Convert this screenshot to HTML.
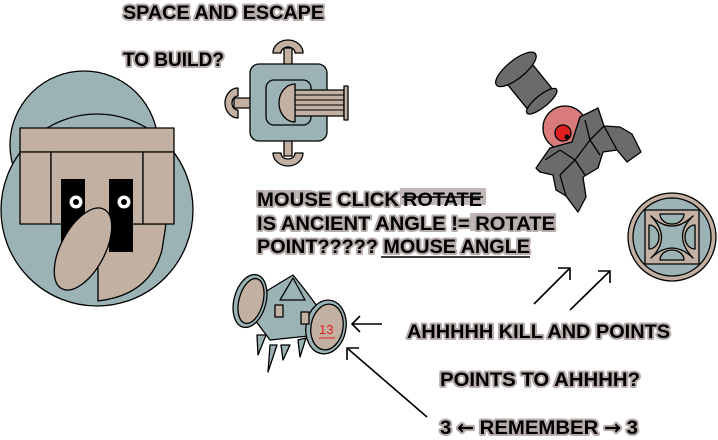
<!DOCTYPE html>
<html><head><meta charset="utf-8"><style>
html,body{margin:0;padding:0;background:#fff;}
svg{display:block}
.t{font-family:"Liberation Sans","DejaVu Sans",sans-serif;font-weight:bold;font-size:19px;fill:#000;stroke:#b5acaa;stroke-width:4px;paint-order:stroke;stroke-linejoin:round}
.o{stroke:#000;stroke-width:1.3;stroke-linejoin:round}
</style></head><body>
<svg width="718" height="440" viewBox="0 0 718 440">
<g>
<circle class="o" cx="84" cy="145" r="74" fill="#9cb3b6"/>
<circle class="o" cx="97" cy="210" r="96" fill="#9cb3b6"/>
<path class="o" d="M98 240 L98 301 Q150 295 162 250 L166 224 L98 224 Z" fill="#c2b0a2"/>
<rect class="o" x="20" y="128" width="154" height="24" fill="#c2b0a2"/>
<rect class="o" x="20" y="152" width="31" height="72" fill="#c2b0a2"/>
<rect class="o" x="51" y="152" width="92" height="72" fill="#c2b0a2"/>
<rect class="o" x="143" y="152" width="31" height="72" fill="#c2b0a2"/>
<rect x="61" y="179" width="24" height="73" fill="#000"/>
<rect x="109" y="179" width="24" height="73" fill="#000"/>
<circle cx="76" cy="202" r="6.5" fill="#fff"/><circle cx="76" cy="202" r="3" fill="#000"/>
<circle cx="124" cy="202" r="6.5" fill="#fff"/><circle cx="124" cy="202" r="3" fill="#000"/>
<ellipse class="o" cx="83" cy="249" rx="22" ry="45" transform="rotate(28 83 249)" fill="#c2b0a2"/>
</g>
<g>
<rect class="o" x="284" y="48" width="8" height="18" fill="#c2b0a2"/>
<path class="o" d="M273 53 A15 13 0 0 1 303 53 L295 53 A7 6 0 0 0 281 53 Z" fill="#c2b0a2"/>
<rect class="o" x="284" y="138" width="8" height="18" fill="#c2b0a2"/>
<path class="o" d="M273 153 A15 13 0 0 0 303 153 L295 153 A7 6 0 0 1 281 153 Z" fill="#c2b0a2"/>
<rect class="o" x="234" y="98" width="18" height="10" fill="#c2b0a2"/>
<path class="o" d="M238 88 A13 15 0 0 0 238 118 L238 110 A6 7 0 0 1 238 96 Z" fill="#c2b0a2"/>
<rect class="o" x="250" y="64" width="77" height="77" rx="9" fill="#9cb3b6"/>
<rect class="o" x="266" y="80" width="45" height="45" rx="8" fill="#9cb3b6"/>
<rect class="o" x="292" y="90" width="52" height="26" fill="#c2b0a2"/>
<path d="M293 95 H344 M293 100 H344 M293 105 H344 M293 110 H344" stroke="#000" stroke-width="1"/>
<rect class="o" x="344" y="86" width="4" height="34" fill="#c2b0a2"/>
<path class="o" d="M295 84 A16 19 0 0 0 295 122 Z" fill="#c2b0a2"/>
</g>
<g class="o" fill="#6b6b6b">
<g transform="translate(565 130) rotate(-39)">
<rect x="-16" y="-78" width="32" height="40" rx="4"/>
<ellipse cx="0" cy="-78" rx="25" ry="9"/>
<ellipse cx="0" cy="-37" rx="19" ry="6"/>
</g>
<circle cx="565" cy="128" r="22" fill="#d97b7b"/>
<polygon points="536,168 550,148 572,142 580,117 598,108 604,126 620,127 632,134 641,152 627,162 617,150 603,152 598,168 583,177 586,197 578,212 566,196 556,190 553,175 540,172"/>
<path d="M560 150 L575 160 L560 175 M575 160 L590 140 L604 126 M590 140 L600 155 M575 160 L585 175 M585 120 L590 140 M604 126 L617 150 M560 175 L566 196 M545 160 L560 150" fill="none"/>
<circle cx="563" cy="133" r="8" fill="#e02020"/>
<circle cx="567" cy="137" r="1.8" fill="#000"/>
</g>
<g>
<circle class="o" cx="672" cy="237" r="44" fill="#c2b0a2"/>
<circle class="o" cx="672" cy="237" r="39" fill="#9cb3b6"/>
<rect class="o" x="645" y="210" width="54" height="54" fill="#c2b0a2"/>
<path class="o" d="M651 216 Q672 236 693 216 Q672 236 693 258 Q672 238 651 258 Q672 238 651 216 Z" fill="#9cb3b6"/>
<path class="o" d="M660 214 A12 10 0 0 0 684 214 Z M660 260 A12 10 0 0 1 684 260 Z M649 225 A10 12 0 0 1 649 249 Z M695 225 A10 12 0 0 0 695 249 Z" fill="#9cb3b6"/>
</g>
<g class="o">
<path d="M270 345 L268 372 L277 345 Z M281 345 L283 360 L290 345 Z M298 340 L300 357 L306 338 Z M257 335 L258 355 L266 335 Z" fill="#9cb3b6"/>
<polygon points="260,295 293,275 305,290 320,310 318,335 270,340 255,320" fill="#9cb3b6"/>
<polygon points="280,300 293,278 305,300" fill="#9cb3b6"/>
<ellipse cx="250" cy="301" rx="16" ry="27" transform="rotate(15 250 301)" fill="#9cb3b6"/>
<ellipse cx="251" cy="301" rx="12" ry="23" transform="rotate(15 251 301)" fill="#c2b0a2"/>
<ellipse cx="326" cy="327" rx="20" ry="27" transform="rotate(10 326 327)" fill="#9cb3b6"/>
<ellipse cx="327" cy="327" rx="16" ry="23" transform="rotate(10 327 327)" fill="#c2b0a2"/>
<rect x="275" y="305" width="8" height="12" fill="#c2b0a2"/>
<rect x="301" y="312" width="8" height="12" fill="#c2b0a2"/>
</g>
<text x="319" y="334" font-family="Liberation Sans,sans-serif" font-size="13" fill="#e02020">13</text>
<line x1="319" y1="338" x2="335" y2="338" stroke="#e02020" stroke-width="1"/>
<g stroke="#000" stroke-width="1.6" fill="none">
<path d="M534 304 L570 268 M558 268 H570 V280"/>
<path d="M570 310 L610 271 M598 271 H610 V283"/>
<path d="M382 324 H352 M360 316 L352 324 L360 332"/>
<path d="M427 417 L347 348 M347 360 L347 348 L359 348"/>
</g>
<text class="t" x="123" y="19" textLength="201" lengthAdjust="spacingAndGlyphs">SPACE AND ESCAPE</text>
<text class="t" x="123" y="66" textLength="101" lengthAdjust="spacingAndGlyphs">TO BUILD?</text>
<g>
<rect x="256" y="190" width="56" height="9" fill="#c0b8b6"/>
<rect x="400" y="188" width="86" height="17" fill="#c0b8b6"/>
<rect x="470" y="213" width="86" height="18" fill="#c0b8b6"/>
<text class="t" x="257" y="206" textLength="142" lengthAdjust="spacingAndGlyphs">MOUSE CLICK</text>
<text x="403" y="206" font-family="Liberation Sans,sans-serif" font-weight="bold" font-size="19" fill="#000" textLength="79" lengthAdjust="spacingAndGlyphs">ROTATE</text>
<line x1="402" y1="197" x2="483" y2="197" stroke="#000" stroke-width="1.5"/>
<text class="t" x="257" y="230" textLength="298" lengthAdjust="spacingAndGlyphs">IS ANCIENT ANGLE != ROTATE</text>
<text class="t" x="257" y="253" textLength="273" lengthAdjust="spacingAndGlyphs">POINT????? MOUSE ANGLE</text>
<line x1="381" y1="257" x2="530" y2="257" stroke="#000" stroke-width="1.5"/>
</g>
<text class="t" x="407" y="338" textLength="263" lengthAdjust="spacingAndGlyphs">AHHHHH KILL AND POINTS</text>
<text class="t" x="440" y="386" textLength="200" lengthAdjust="spacingAndGlyphs">POINTS TO AHHHH?</text>
<text class="t" x="440" y="434" textLength="198" lengthAdjust="spacingAndGlyphs">3 <tspan font-family="DejaVu Sans,sans-serif">←</tspan> REMEMBER <tspan font-family="DejaVu Sans,sans-serif">→</tspan>  3</text>
</svg>
</body></html>
